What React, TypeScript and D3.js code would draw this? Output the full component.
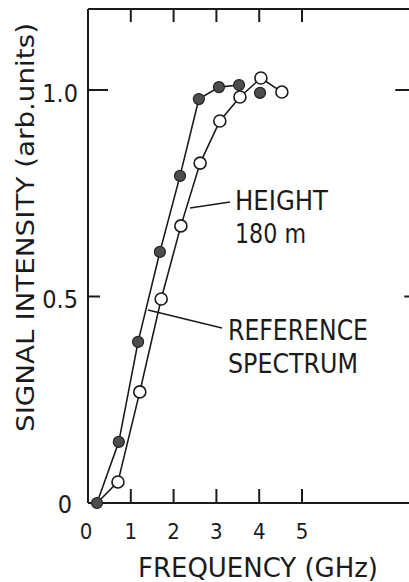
import React from "react";
import * as d3 from "d3";

// readings (GHz, arb. units)
const heightFreq = [0.21, 0.72, 1.17, 1.68, 2.15, 2.59, 3.06, 3.53, 4.02];
const heightVal = [0, 0.148, 0.39, 0.608, 0.792, 0.978, 1.007, 1.012, 0.993];
const heightJoined = 8; // the last 180 m point is not joined by the line

const refFreq = [0.21, 0.7, 1.21, 1.71, 2.17, 2.62, 3.08, 3.55, 4.04, 4.53];
const refVal = [0, 0.051, 0.269, 0.494, 0.671, 0.823, 0.925, 0.983, 1.029, 0.995];

const xTicks = [1, 2, 3, 4, 5];
const xTickLabels = ["0", "1", "2", "3", "4", "5"];
const yTicks = [0.5, 1.0];
const yTickLabels = ["0", "0.5", "1.0"];

const W = 409;
const H = 582;
const FONT = "'DejaVu Sans Condensed', 'Liberation Sans Narrow', 'DejaVu Sans', sans-serif";
const INK = "#1b1b1b";

export default function App() {
  const x = d3.scaleLinear().domain([0, 5]).range([88, 302]);
  const y = d3.scaleLinear().domain([0, 1]).range([503, 90]);
  const left = x(0);
  const right = x(7.6);
  const bottom = y(0);
  const top = y(1.196);

  const heightPts = heightFreq.map((f, i) => ({ f, v: heightVal[i], i }));
  const refPts = refFreq.map((f, i) => ({ f, v: refVal[i], i }));

  const line = d3
    .line<{ f: number; v: number; i: number }>()
    .x((d) => x(d.f))
    .y((d) => y(d.v));

  const heightLine = line.defined((d) => d.i < heightJoined)(heightPts) || "";
  const refLine = d3
    .line<{ f: number; v: number }>()
    .x((d) => x(d.f))
    .y((d) => y(d.v))(refPts) || "";

  return (
    <svg
      width={W}
      height={H}
      style={{ position: "absolute", left: 0, top: 0, background: "#fff" }}
      fontFamily={FONT}
    >
      {/* frame */}
      <g stroke={INK} strokeWidth={2} fill="none">
        <line x1={left} y1={top} x2={left} y2={bottom} />
        <line x1={left} y1={bottom} x2={right} y2={bottom} />
        <line x1={left} y1={top} x2={right} y2={top} />
        <line x1={right} y1={top} x2={right} y2={bottom} />
        {xTicks.map((t) => (
          <g key={t}>
            <line x1={x(t)} y1={bottom} x2={x(t)} y2={bottom - 14} />
            <line x1={x(t)} y1={top} x2={x(t)} y2={top + 13} />
          </g>
        ))}
        {yTicks.map((t) => (
          <g key={t}>
            <line x1={left} y1={y(t)} x2={left + (t === 1 ? 20 : 12)} y2={y(t)} />
            <line x1={right} y1={y(t)} x2={right - (t === 1 ? 18 : 9)} y2={y(t)} />
          </g>
        ))}
      </g>

      {/* tick labels */}
      <g fill={INK} fontSize={22}>
        {xTickLabels.map((l, i) => (
          <text key={l} x={x(i) - (i === 0 ? 2 : 0)} y={539} textAnchor="middle">
            {l}
          </text>
        ))}
      </g>
      <g fill={INK} fontSize={25} textAnchor="end">
        <text x={72} y={513}>{yTickLabels[0]}</text>
        <text x={78} y={308}>{yTickLabels[1]}</text>
        <text x={78} y={102}>{yTickLabels[2]}</text>
      </g>

      {/* axis titles */}
      <text
        fill={INK}
        fontSize={27}
        x={138}
        y={577}
        textLength={240}
        lengthAdjust="spacingAndGlyphs"
      >
        FREQUENCY (GHz)
      </text>
      <text
        fill={INK}
        fontSize={25}
        transform={`translate(34, 432) rotate(-90)`}
        textLength={409}
        lengthAdjust="spacingAndGlyphs"
      >
        SIGNAL INTENSITY (arb.units)
      </text>

      {/* series */}
      <path d={heightLine} fill="none" stroke={INK} strokeWidth={1.6} />
      <path d={refLine} fill="none" stroke={INK} strokeWidth={1.6} />
      {heightPts.map((d) => (
        <circle
          key={"h" + d.i}
          cx={x(d.f)}
          cy={y(d.v)}
          r={5.5}
          fill="#4d4d4d"
          stroke="#222"
          strokeWidth={1.2}
        />
      ))}
      {refPts
        .filter((d) => d.v > 0)
        .map((d) => (
          <circle
            key={"r" + d.i}
            cx={x(d.f)}
            cy={y(d.v)}
            r={6}
            fill="#fff"
            stroke={INK}
            strokeWidth={1.6}
          />
        ))}

      {/* annotations */}
      <g stroke={INK} strokeWidth={1.6}>
        <line x1={190} y1={208} x2={230} y2={202} />
        <line x1={148} y1={310} x2={222} y2={328} />
      </g>
      <g fill={INK}>
        <text x={235} y={210} fontSize={27} textLength={93} lengthAdjust="spacingAndGlyphs">
          HEIGHT
        </text>
        <text x={235} y={243} fontSize={27} textLength={71} lengthAdjust="spacingAndGlyphs">
          180 m
        </text>
        <text x={228} y={340} fontSize={29} textLength={140} lengthAdjust="spacingAndGlyphs">
          REFERENCE
        </text>
        <text x={228} y={373} fontSize={27} textLength={130} lengthAdjust="spacingAndGlyphs">
          SPECTRUM
        </text>
      </g>
    </svg>
  );
}
